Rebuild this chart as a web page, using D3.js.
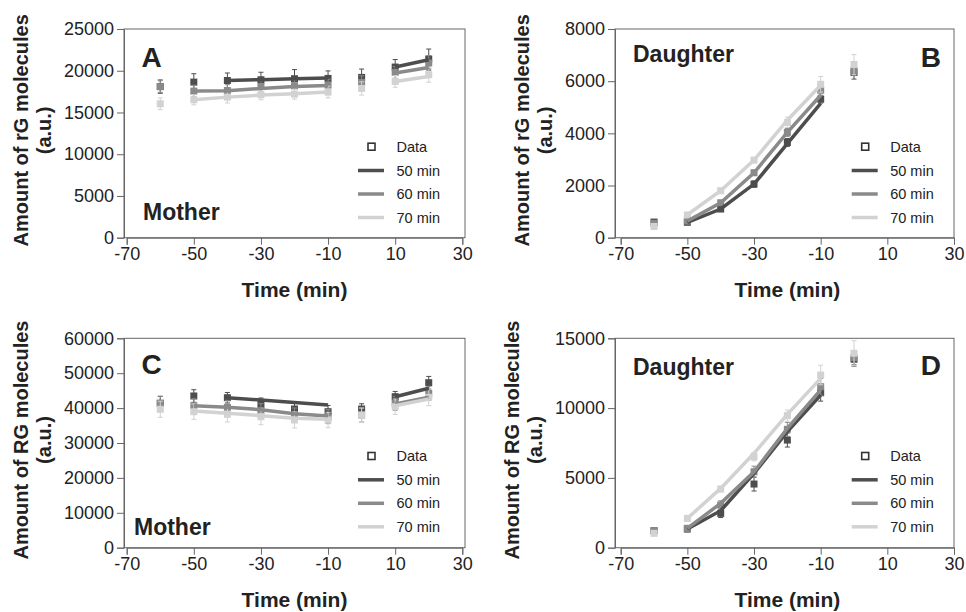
<!DOCTYPE html>
<html>
<head>
<meta charset="utf-8">
<script src="https://cdn.jsdelivr.net/npm/d3@7"></script>
<style>
  body { margin: 0; background: #fff; }
  text { font-family: "Liberation Sans", Arial, sans-serif; fill: #222; }
</style>
</head>
<body>
<svg id="fig" width="966" height="612"></svg>
<script>
// ---- data ----
const timeMother = [-60, -50, -40, -30, -20, -10, 0, 10, 20];
const timeDaughter = [-60, -50, -40, -30, -20, -10, 0];
const modelTimeMother = [-50, -40, -30, -20, -10, 0, 10, 20];   // null at 0 = gap
const modelTimeDaughter = [-50, -40, -30, -20, -10];
const seriesNames = ["50 min", "60 min", "70 min"];
const xTicks = [-70, -50, -30, -10, 10, 30];

// A: rG, mother
const aData = [
    [18100, 18640, 18830, 18920, 19040, 19080, 19200, 20440, 21400],
    [18100, 17560, 17630, 18110, 18200, 18280, 18600, 19800, 20920],
    [16040, 16520, 16840, 17120, 17200, 17440, 17880, 18720, 19520]
];
const aErr = [
    [800, 1000, 900, 900, 1100, 900, 1000, 900, 1200],
    [700, 700, 700, 700, 700, 700, 800, 700, 900],
    [700, 600, 700, 600, 600, 700, 800, 700, 900]
];
const aModel = [
    [null, 18830, 18930, 19030, 19120, null, 20440, 21320],
    [17560, 17600, 17880, 18110, 18240, null, 19720, 20400],
    [16520, 16840, 17080, 17240, 17440, null, 18720, 19320]
];

// B: rG, daughter
const bData = [
    [600, 590, 1100, 2055, 3650, 5310, 6330],
    [550, 640, 1340, 2490, 4035, 5650, 6420],
    [430, 870, 1800, 2975, 4420, 5880, 6640]
];
const bErr = [
    [60, 60, 100, 120, 150, 150, 250],
    [60, 60, 80, 100, 150, 200, 200],
    [80, 80, 100, 100, 200, 300, 380]
];
const bModel = [
    [590, 1100, 2055, 3610, 5145],
    [640, 1340, 2490, 4035, 5460],
    [880, 1800, 2975, 4505, 5845]
];

// C: RG, mother
const cData = [
    [41380, 43470, 42980, 41090, 39740, 38970, 39740, 43270, 47280],
    [41380, 40690, 40230, 39260, 38020, 37540, 38020, 41380, 44240],
    [39660, 38970, 38220, 37540, 36590, 36590, 38020, 40400, 43090]
];
const cErr = [
    [2000, 1800, 1500, 1800, 2000, 1800, 1500, 1500, 1800],
    [2000, 2000, 2000, 2000, 2000, 2000, 2000, 2000, 2000],
    [2300, 2200, 2200, 2300, 2300, 2200, 2000, 2200, 2400]
];
const cModel = [
    [null, 42980, 42300, 41600, 40890, null, 43270, 45670],
    [40690, 40230, 39550, 38400, 37740, null, 41180, 43090],
    [39170, 38500, 37830, 37070, 36780, null, 40690, 42600]
];

// D: RG, daughter
const dData = [
    [1220, 1340, 2460, 4560, 7710, 11100, 13500],
    [1220, 1390, 3060, 5440, 8480, 11530, 13620],
    [1030, 2100, 4200, 6520, 9460, 12370, 13930]
];
const dErr = [
    [150, 200, 300, 500, 500, 600, 500],
    [150, 200, 300, 400, 500, 600, 500],
    [150, 200, 200, 300, 400, 700, 900]
];
const dModel = [
    [1340, 2650, 5330, 8310, 10940],
    [1390, 3180, 5440, 8550, 11300],
    [2100, 4250, 6760, 9550, 12130]
];

// ---- styling / layout ----
const colors = ["#4d4d4d", "#8a8a8a", "#d2d2d2"];
const svg = d3.select("#fig");

const panels = [
    { letter: "A", who: "Mother", ylab: "Amount of rG molecules", yMax: 25000, yStep: 5000,
      t: timeMother, mt: modelTimeMother, data: aData, err: aErr, model: aModel,
      box: [124, 465, 29, 237.7], xr: [126.7, 462.3], titleX: 21, timeY: 297, daughter: false },
    { letter: "B", who: "Daughter", ylab: "Amount of rG molecules", yMax: 8000, yStep: 2000,
      t: timeDaughter, mt: modelTimeDaughter, data: bData, err: bErr, model: bModel,
      box: [615, 954, 29, 237.7], xr: [620.7, 954], titleX: 522, timeY: 297, daughter: true },
    { letter: "C", who: "Mother", ylab: "Amount of RG molecules", yMax: 60000, yStep: 10000,
      t: timeMother, mt: modelTimeMother, data: cData, err: cErr, model: cModel,
      box: [124, 465, 338.3, 547.7], xr: [126.7, 462.3], titleX: 21, timeY: 607, daughter: false },
    { letter: "D", who: "Daughter", ylab: "Amount of RG molecules", yMax: 15000, yStep: 5000,
      t: timeDaughter, mt: modelTimeDaughter, data: dData, err: dErr, model: dModel,
      box: [615, 954, 338.3, 547.7], xr: [620.7, 954], titleX: 512, timeY: 607, daughter: true }
];

panels.forEach(p => {
    const [x0, x1, y0, y1] = p.box;
    const x = d3.scaleLinear().domain([-70, 30]).range(p.xr);
    const y = d3.scaleLinear().domain([0, p.yMax]).range([y1, y0]);
    const g = svg.append("g");

    // frame
    g.append("rect")
        .attr("x", x0).attr("y", y0)
        .attr("width", x1 - x0).attr("height", y1 - y0)
        .attr("fill", "none").attr("stroke", "#666").attr("stroke-width", 1);

    // axes
    const yAxis = g.append("g")
        .attr("transform", `translate(${x0},0)`)
        .call(d3.axisLeft(y).tickValues(d3.range(0, p.yMax + 1, p.yStep))
            .tickFormat(d3.format("d")).tickSize(7).tickPadding(3));
    const xAxis = g.append("g")
        .attr("transform", `translate(0,${y1})`)
        .call(d3.axisBottom(x).tickValues(xTicks).tickFormat(d3.format("d"))
            .tickSize(7).tickPadding(3));
    [yAxis, xAxis].forEach(a => {
        a.select(".domain").attr("stroke", "#666");
        a.selectAll(".tick line").attr("stroke", "#666");
        a.selectAll(".tick text").attr("fill", "#222")
            .style("font-size", "18px").style("font-family", '"Liberation Sans", Arial, sans-serif');
    });
    xAxis.selectAll(".tick text").text(d => d < 0 ? "-" + Math.abs(d) : d);

    // axis titles
    g.append("text")
        .attr("transform", `translate(${p.titleX},${(y0 + y1) / 2 - 3}) rotate(-90)`)
        .attr("text-anchor", "middle").attr("dy", "0.35em")
        .style("font-size", "20px").style("font-weight", "bold")
        .text(p.ylab);
    g.append("text")
        .attr("transform", `translate(${p.titleX + 23},${(y0 + y1) / 2 - 3}) rotate(-90)`)
        .attr("text-anchor", "middle").attr("dy", "0.35em")
        .style("font-size", "20px").style("font-weight", "bold")
        .text("(a.u.)");
    g.append("text")
        .attr("x", (p.xr[0] + p.xr[1]) / 2).attr("y", p.timeY)
        .attr("text-anchor", "middle")
        .style("font-size", "21px").style("font-weight", "bold")
        .text("Time (min)");

    // data with error bars
    p.data.forEach((vals, s) => {
        const pts = p.t.map((t, i) => ({ t, v: vals[i], e: p.err[s][i] }));
        const ds = g.append("g");
        ds.selectAll(".eb").data(pts).enter().append("path")
            .attr("d", d => {
                const cx = x(d.t), top = y(d.v + d.e), bot = y(d.v - d.e);
                return `M${cx},${top}V${bot}M${cx - 2.5},${top}H${cx + 2.5}M${cx - 2.5},${bot}H${cx + 2.5}`;
            })
            .attr("stroke", colors[s]).attr("stroke-width", 1).attr("fill", "none");
        ds.selectAll("rect").data(pts).enter().append("rect")
            .attr("x", d => x(d.t) - 3.5).attr("y", d => y(d.v) - 3.5)
            .attr("width", 7).attr("height", 7)
            .attr("fill", colors[s]);
    });

    // model lines
    const line = d3.line()
        .defined(d => d.v !== null)
        .x(d => x(d.t)).y(d => y(d.v));
    p.model.forEach((vals, s) => {
        g.append("path")
            .datum(p.mt.map((t, i) => ({ t, v: vals[i] })))
            .attr("d", line)
            .attr("fill", "none").attr("stroke", colors[s]).attr("stroke-width", 3.5);
    });

    // panel labels
    if (p.daughter) {
        g.append("text").attr("x", 633).attr("y", p.letter === "B" ? 61.7 : 375)
            .style("font-size", "23px").style("font-weight", "bold").text(p.who);
        g.append("text").attr("x", 941).attr("y", p.letter === "B" ? 66.7 : 375)
            .attr("text-anchor", "end")
            .style("font-size", "28px").style("font-weight", "bold").text(p.letter);
    } else {
        g.append("text").attr("x", 141.5).attr("y", p.letter === "A" ? 66.7 : 374)
            .style("font-size", "28px").style("font-weight", "bold").text(p.letter);
        g.append("text").attr("x", p.letter === "A" ? 143 : 134).attr("y", p.letter === "A" ? 220 : 535)
            .style("font-size", "23px").style("font-weight", "bold").text(p.who);
    }

    // legend
    const lx = p.daughter ? 851.7 : 358;
    const ly = y0 + 117.7;
    const leg = g.append("g").attr("transform", `translate(${lx},${ly})`);
    leg.append("rect").attr("x", 10).attr("y", -3.5).attr("width", 7).attr("height", 7)
        .attr("fill", "#fff").attr("stroke", "#333").attr("stroke-width", 1.6);
    leg.append("text").attr("x", 38.5).attr("y", 0).attr("dy", "0.35em")
        .style("font-size", "14.5px").text("Data");
    seriesNames.forEach((name, s) => {
        const yy = 23.8 + s * 23.5;
        leg.append("line").attr("x1", 0).attr("x2", 26).attr("y1", yy).attr("y2", yy)
            .attr("stroke", colors[s]).attr("stroke-width", 3.5);
        leg.append("text").attr("x", 38.5).attr("y", yy).attr("dy", "0.35em")
            .style("font-size", "14.5px").text(name);
    });
});
</script>
</body>
</html>
